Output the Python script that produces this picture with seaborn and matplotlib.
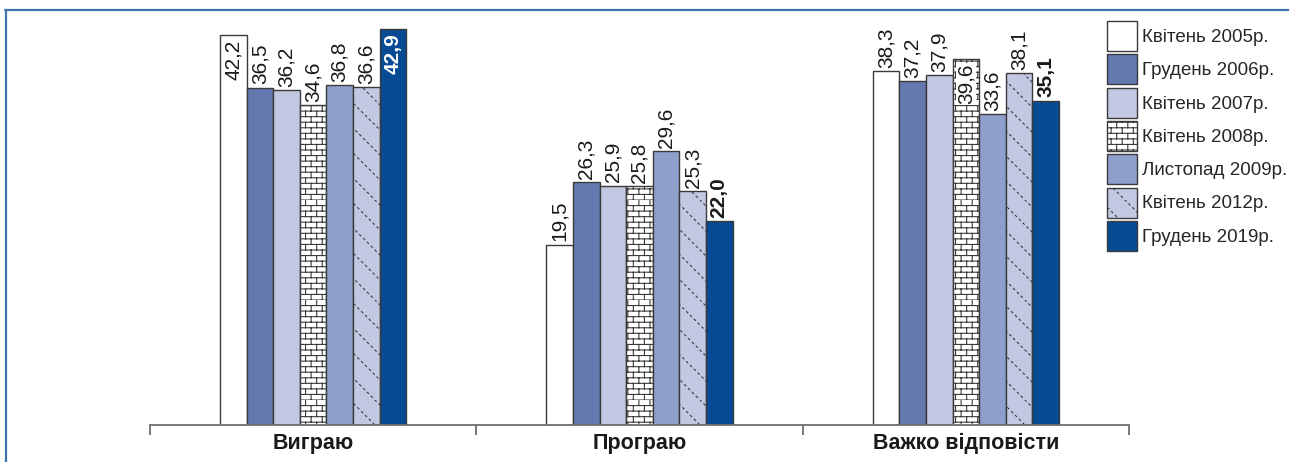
import warnings
import numpy as np
import pandas as pd
import matplotlib.pyplot as plt
import matplotlib.lines as mlines
import matplotlib.patches as mpatches
import matplotlib.hatch as mhatch
from matplotlib.path import Path
import seaborn as sns
warnings.filterwarnings('ignore')

# ── Data ─────────────────────────────────────────────────────────────────────
categories = ['Виграю', 'Програю', 'Важко відповісти']
surveys = ['Квітень 2005р.', 'Грудень 2006р.', 'Квітень 2007р.', 'Квітень 2008р.',
           'Листопад 2009р.', 'Квітень 2012р.', 'Грудень 2019р.']
win = [42.2, 36.5, 36.2, 34.6, 36.8, 36.6, 42.9]
lose = [19.5, 26.3, 25.9, 25.8, 29.6, 25.3, 22.0]
hard = [38.3, 37.2, 37.9, 39.6, 33.6, 38.1, 35.1]

colors = ['#ffffff', '#6379b0', '#c3c8e2', '#ffffff', '#8e9fcb', '#c3c8e2', '#064a94']
hatches = ['', '', '', 'b', '', 'd', '']

rows = []
for cat, vals in zip(categories, [win, lose, hard]):
    for s, v in zip(surveys, vals):
        rows.append({'cat': cat, 'survey': s, 'value': v})
df = pd.DataFrame(rows)


# ── Custom hatches: brick wall ('b') and dotted diagonal ('d') ───────────────
class BrickHatch(mhatch.HatchPatternBase):
    def __init__(self, hatch, density):
        self.on = 'b' in hatch
        self.rows, self.cols = 18, 9
        self.num_vertices = (self.rows * 2 + self.rows * self.cols * 2) if self.on else 0

    def set_vertices_and_codes(self, vertices, codes):
        k = 0
        for r in range(self.rows):
            y = r / self.rows
            vertices[k], vertices[k + 1] = (0, y), (1, y)
            codes[k], codes[k + 1] = Path.MOVETO, Path.LINETO
            k += 2
            off = 0.5 / self.cols if r % 2 else 0
            for c in range(self.cols):
                x = c / self.cols + off
                vertices[k], vertices[k + 1] = (x, y), (x, y + 1 / self.rows)
                codes[k], codes[k + 1] = Path.MOVETO, Path.LINETO
                k += 2


class DotDiagHatch(mhatch.HatchPatternBase):
    def __init__(self, hatch, density):
        self.on = 'd' in hatch
        self.n, self.m = 4, 26
        self.num_vertices = (2 * self.n * self.m * 2) if self.on else 0

    def set_vertices_and_codes(self, vertices, codes):
        k = 0
        for i in range(-self.n, self.n):
            o = i / self.n
            for j in range(self.m):
                t0 = j / self.m
                t1 = t0 + 0.012
                vertices[k], vertices[k + 1] = (t0 + o, 1 - t0), (t1 + o, 1 - t1)
                codes[k], codes[k + 1] = Path.MOVETO, Path.LINETO
                k += 2


mhatch._hatch_types.extend([BrickHatch, DotDiagHatch])

# ── Style ────────────────────────────────────────────────────────────────────
sns.set_theme(style='white')
plt.rcParams['font.family'] = ['Liberation Sans', 'DejaVu Sans']
plt.rcParams['hatch.linewidth'] = 0.8
plt.rcParams['hatch.color'] = '#333333'

fig = plt.figure(figsize=(12.89, 4.62), dpi=100)
ax = fig.add_axes([150 / 1289, 37.5 / 462, 979 / 1289, 406 / 462])

sns.barplot(data=df, x='cat', y='value', hue='survey', order=categories,
            hue_order=surveys, palette=colors, width=0.57, gap=0,
            edgecolor='#3a3a3a', linewidth=1, saturation=1,
            legend=False, ax=ax)

for i, cont in enumerate(ax.containers):
    for bar in cont:
        bar.set_hatch(hatches[i])
        bar.set_edgecolor('#3a3a3a')

# ── Value labels ─────────────────────────────────────────────────────────────
for i, cont in enumerate(ax.containers):
    for j, bar in enumerate(cont):
        val = bar.get_height()
        xc = bar.get_x() + bar.get_width() / 2
        txt = f'{val:.1f}'.replace('.', ',')
        bold = i == len(surveys) - 1
        inside = (i == 0 and j == 0) or (i == 6 and j == 0) or (i == 3 and j == 2)
        if inside:
            color = 'white' if i == 6 else '#1a1a1a'
            kw = {}
            if i == 3:
                kw['bbox'] = dict(facecolor='white', edgecolor='none', pad=0.5)
            ax.text(xc, val - 0.5, txt, rotation=90, ha='center', va='top',
                    fontsize=15, color=color,
                    fontweight='bold' if bold else 'normal', **kw)
        else:
            ax.text(xc, val + 0.35, txt, rotation=90, ha='center', va='bottom',
                    fontsize=15, color='#1a1a1a',
                    fontweight='bold' if bold else 'normal')

# ── Axes ─────────────────────────────────────────────────────────────────────
ax.set_xlim(-0.5, 2.5)
ax.set_ylim(0, 44)
ax.set_xlabel('')
ax.set_ylabel('')
ax.set_yticks([])
for side in ['top', 'right', 'left']:
    ax.spines[side].set_visible(False)
ax.spines['bottom'].set_color('#707070')
ax.spines['bottom'].set_linewidth(1.3)
ax.set_xticks([0, 1, 2])
ax.set_xticklabels(categories, fontsize=15.5, fontweight='bold', color='#1a1a1a')
ax.tick_params(axis='x', which='major', length=0, pad=6)
ax.set_xticks([-0.5, 0.5, 1.5, 2.5], minor=True)
ax.tick_params(axis='x', which='minor', length=7.5, width=1.3, color='#707070',
               direction='out', bottom=True)

# ── Legend ───────────────────────────────────────────────────────────────────
handles = [mpatches.Patch(facecolor=c, edgecolor='#3a3a3a', hatch=h, linewidth=1)
           for c, h in zip(colors, hatches)]
fig.legend(handles, surveys, loc='upper left', bbox_to_anchor=(1107 / 1289, 1 - 21 / 462),
           frameon=False, fontsize=13.5, handlelength=1.6, handleheight=2.08,
           labelspacing=0.18, handletextpad=0.27, borderpad=0, borderaxespad=0)

# ── Frame lines ──────────────────────────────────────────────────────────────
fig.add_artist(mlines.Line2D([5 / 1289, 1], [1 - 9.5 / 462, 1 - 9.5 / 462],
                             color='#3f73b0', linewidth=1.6))
fig.add_artist(mlines.Line2D([6 / 1289, 6 / 1289], [0, 1 - 9.5 / 462],
                             color='#3f73b0', linewidth=1.6))

fig.savefig('out.png', dpi=100, facecolor='white')
